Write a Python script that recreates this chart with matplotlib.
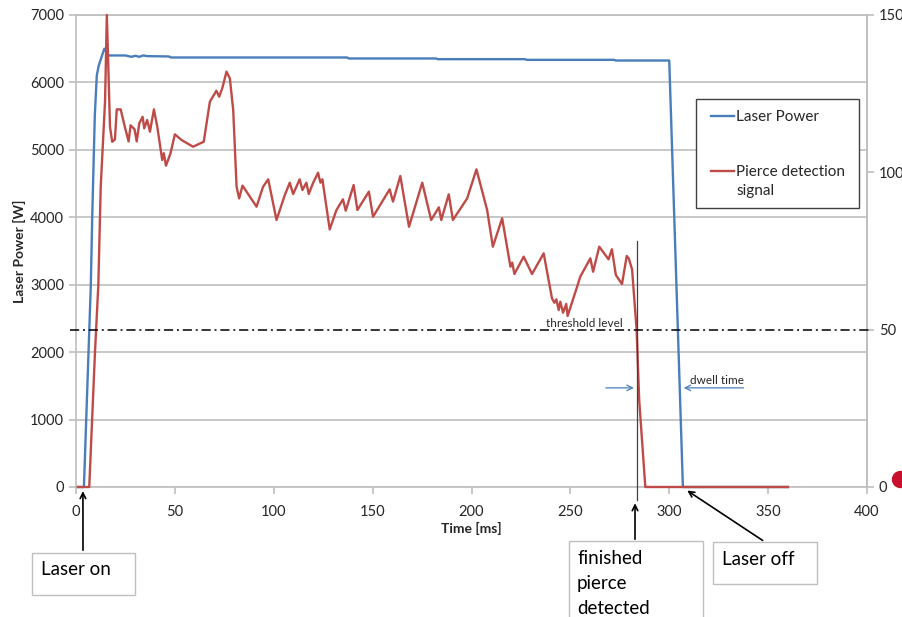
import numpy as np
import matplotlib.pyplot as plt
from matplotlib.patches import Rectangle
from matplotlib.lines import Line2D

plt.rcParams['font.family'] = ['Lato', 'DejaVu Sans']

# laser power [W] vs time [ms]
power_t = [1, 4, 7.5, 8.2, 9.5, 10.5, 11.5, 14.3, 16.5, 25, 28, 30, 32, 34, 36, 47,
           48, 137, 138, 182, 183, 227, 228, 272, 273, 300, 306.9, 360]
power_w = [0, 0, 3000, 4000, 5500, 6100, 6250, 6500, 6400, 6400, 6380, 6395, 6380, 6400, 6390, 6385,
           6370, 6370, 6355, 6355, 6345, 6345, 6335, 6335, 6325, 6325, 0, 0]

# pierce detection signal, plotted on the left scale [W equivalent]
signal_t = [1, 6.7, 9.6, 11.3, 12.5, 14.7, 15.6, 17.2, 18.3, 19.7, 20.6, 22.6, 24.7, 26.6, 27.6,
            29.6, 30.7, 32, 33.7, 34.5, 36, 37.4, 39.4, 41.1, 43.6, 44.4, 45.5, 47.8, 50, 53.4,
            59.2, 64.6, 67.7, 71, 72.4, 74.1, 76.1, 77.8, 79.5, 81.2, 82.5, 84.2, 91.3, 94.6,
            97.2, 101.4, 105.6, 108.1, 109.8, 113.1, 114.5, 116.5, 117.7, 119.8, 122.4, 123.6,
            124.6, 128.3, 131.7, 135, 136.4, 140.4, 142.3, 148.1, 150.2, 158.6, 160.3, 164,
            168.4, 175.1, 179.6, 183.5, 184.7, 188.5, 190.6, 197.8, 202.5, 207.9, 210.8, 215.5,
            219.7, 220.6, 221.7, 226.4, 230.6, 236.5, 240.7, 241.9, 242.9, 244.1, 244.9, 246.3,
            247.9, 248.6, 253.4, 255, 260.1, 261.5, 264.6, 269.3, 271, 273, 276.1, 278.5, 279.5,
            281.2, 283.5, 284.8, 287.9, 360]
signal_w = [0, 0, 2000, 3000, 4450, 5730, 7000, 5340, 5120, 5155, 5600, 5600, 5340, 5125, 5364,
            5305, 5125, 5394, 5490, 5320, 5443, 5270, 5600, 5343, 4850, 4950, 4765, 4950, 5230, 5145,
            5047, 5120, 5714, 5877, 5788, 5927, 6160, 6060, 5590, 4453, 4280, 4470, 4157, 4453,
            4563, 3960, 4330, 4513, 4345, 4563, 4404, 4513, 4345, 4503, 4661, 4513,
            4563, 3820, 4108, 4266, 4098, 4478, 4108, 4380, 4008, 4414, 4232, 4612,
            3860, 4513, 3960, 4148, 3960, 4340, 3960, 4280, 4711, 4108, 3564, 3985,
            3267, 3327, 3159, 3416, 3159, 3465, 2798, 2733, 2783, 2625, 2748, 2585,
            2714, 2536, 2970, 3119, 3391, 3193, 3564, 3376, 3525, 3144, 3010, 3426, 3391,
            3228, 2328, 1290, 0, 0]

threshold = 50        # on the right-hand scale
laser_on_t = 3.5
pierce_done_t = 283.5
laser_off_t = 306.9

W, H = 902, 617
def fx(px):
    return px / W
def fy(py):
    return 1 - py / H

fig = plt.figure(figsize=(W / 100, H / 100), dpi=100)
ax = fig.add_axes([fx(76), fy(487), 791 / W, 472 / H])

blue = '#4a7ebb'
red = '#be4b48'
grey = '#bfbfbf'
txt = '#262626'

ax.plot(power_t, power_w, color=blue, lw=1.7, zorder=3, clip_on=False)
ax.plot(signal_t, signal_w, color=red, lw=1.7, zorder=4, clip_on=False)

ax.set_xlim(0, 400)
ax.set_ylim(0, 7000)
ax.set_xticks(np.arange(0, 401, 50))
ax.set_yticks(np.arange(0, 7001, 1000))
ax.grid(axis='y', color=grey, lw=1.2)
ax.set_axisbelow(True)
for s in ax.spines.values():
    s.set_color(grey)
    s.set_linewidth(1.2)
    s.set_zorder(1)
ax.tick_params(colors=grey, labelcolor=txt, labelsize=10.5, length=5, width=1.2)
ax.tick_params(axis='x', pad=8)

ax.set_ylabel('Laser Power [W]', fontsize=10, fontweight='bold', color=txt)
ax.yaxis.set_label_coords(-0.063, 0.5)
ax.set_xlabel('Time [ms]', fontsize=10, fontweight='bold', color=txt)
ax.xaxis.set_label_coords(0.5, -0.075)

ax2 = ax.twinx()
ax2.set_ylim(0, 150)
ax2.set_yticks([0, 50, 100, 150])
for name, s in ax2.spines.items():
    s.set_visible(name == 'right')
    s.set_color(grey)
    s.set_linewidth(1.2)
ax2.tick_params(colors=grey, labelcolor=txt, labelsize=10.5, length=5, width=1.2)

# threshold level
ax2.plot([-3, 402], [threshold, threshold], color='black', lw=1.1,
         ls=(0, (6, 2.5, 1.3, 2.5)), clip_on=False, zorder=5)
ax2.text(237.5, threshold + 2.0, 'threshold level', fontsize=8.5, color=txt, va='center')

# pierce detected marker line
ax.plot([pierce_done_t, pierce_done_t], [3650, -190], color='#404040', lw=0.9,
        clip_on=False, zorder=5)

# dwell time arrows
ax.annotate('', xy=(pierce_done_t, 1470), xytext=(266.5, 1470),
            arrowprops=dict(arrowstyle='->', color=blue, lw=0.9))
ax.annotate('', xy=(laser_off_t - 1, 1470), xytext=(339, 1470),
            arrowprops=dict(arrowstyle='->', color=blue, lw=0.9))
ax.text(310.5, 1580, 'dwell time', fontsize=8.5, color=txt, va='center')

# legend drawn by hand
fig.add_artist(Rectangle((fx(696), fy(208)), fx(859) - fx(696), fy(99) - fy(208),
                         transform=fig.transFigure, facecolor='white',
                         edgecolor='#404040', lw=1, zorder=10))
for yy, col, lab in [(116, blue, 'Laser Power'), (171, red, 'Pierce detection\nsignal')]:
    fig.add_artist(Line2D([fx(711), fx(734)], [fy(yy), fy(yy)], color=col, lw=1.7,
                          transform=fig.transFigure, zorder=11))
    fig.text(fx(736), fy(yy - 6), lab, fontsize=11, color=txt, va='top',
             ha='left', linespacing=1.5, zorder=11)

# callout boxes below the chart
def callout(x0, y0, x1, y1, text, tx, ty):
    fig.add_artist(Rectangle((fx(x0), fy(y1)), fx(x1) - fx(x0), fy(y0) - fy(y1),
                             transform=fig.transFigure, facecolor='white',
                             edgecolor=grey, lw=1, zorder=10))
    fig.text(fx(tx), fy(ty), text, fontsize=13.5, color='black', va='top',
             ha='left', linespacing=1.58, zorder=11)

callout(32, 553, 135, 595, 'Laser on', 41, 561)
callout(569, 541, 703, 640, 'finished\npierce\ndetected', 577, 550)
callout(713, 542, 817, 584, 'Laser off', 722, 551)

arrow = dict(arrowstyle='->', color='black', lw=1.2)
ax.annotate('', xy=(laser_on_t, -20), xycoords='data', annotation_clip=False,
            xytext=(83, H - 553), textcoords='figure pixels', arrowprops=arrow)
ax.annotate('', xy=(pierce_done_t - 0.8, -200), xycoords='data', annotation_clip=False,
            xytext=(635, H - 542), textcoords='figure pixels', arrowprops=arrow)
ax.annotate('', xy=(laser_off_t + 1, -30), xycoords='data', annotation_clip=False,
            xytext=(765, H - 542), textcoords='figure pixels', arrowprops=arrow)

# red dot at the edge
ax.plot([416.5], [120], 'o', color='#c8102e', ms=11.5, clip_on=False, zorder=12)

fig.savefig('out.png', dpi=100)
